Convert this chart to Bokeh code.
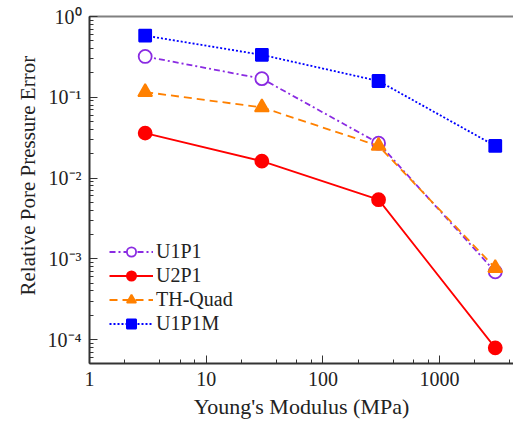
from bokeh.plotting import figure
from bokeh.models import LinearAxis, Range1d, CustomJSTickFormatter, Legend, LegendItem, LogTicker, FixedTicker, Title
from bokeh.embed import file_html
from bokeh.resources import INLINE

modulus = [3, 30, 300, 3000]
u1p1 = [0.32, 0.17, 0.027, 0.00069]
u2p1 = [0.036, 0.0162, 0.0054, 0.000079]
th_quad = [0.116, 0.075, 0.025, 0.00077]
u1p1m = [0.58, 0.335, 0.159, 0.025]
x_label = "Young's Modulus (MPa)"
y_label = "Relative Pore Pressure Error"

FONT = "Liberation Serif"

p = figure(width=513, height=425, x_axis_type="log", y_axis_type="log",
           x_range=Range1d(1, 4300), y_range=Range1d(5.06e-5, 1.0),
           output_backend="svg", toolbar_location=None,
           min_border_left=89, min_border_right=0, min_border_top=16, min_border_bottom=62)
p.outline_line_color = None
p.grid.visible = False
p.background_fill_color = "white"
p.border_fill_color = "white"

for ax in (p.xaxis[0], p.yaxis[0]):
    ax.axis_line_color = "#333333"
    ax.axis_line_width = 2
    ax.major_tick_in = 8
    ax.major_tick_out = 0
    ax.minor_tick_in = 4
    ax.minor_tick_out = 0
    ax.major_tick_line_color = "#333333"
    ax.minor_tick_line_color = "#333333"
    ax.major_label_text_font = FONT
    ax.major_label_text_font_size = "20px"
    ax.major_label_text_color = "#222222"
    ax.axis_label_text_font = FONT
    ax.axis_label_text_font_style = "normal"
    ax.axis_label_text_color = "#222222"

p.xaxis[0].ticker = LogTicker(desired_num_ticks=4)
p.xaxis[0].major_label_overrides = {1: "1", 10: "10", 100: "100", 1000: "1000"}
p.xaxis[0].axis_label = x_label
p.xaxis[0].axis_label_text_font_size = "22px"
p.xaxis[0].major_label_standoff = 8
p.xaxis[0].axis_label_standoff = 5

p.yaxis[0].major_label_standoff = 8
p.yaxis[0].formatter = CustomJSTickFormatter(code="""
const e = Math.round(Math.log10(tick));
const sup = {'-':'\\u207b','0':'\\u2070','1':'\\u00b9','2':'\\u00b2','3':'\\u00b3','4':'\\u2074','5':'\\u2075','6':'\\u2076','7':'\\u2077','8':'\\u2078','9':'\\u2079'};
return '10' + String(e).split('').map(c => sup[c]).join('');
""")

ytitle = Title(text=y_label, align="left", offset=68, standoff=10,
               text_font=FONT, text_font_size="21px", text_font_style="normal",
               text_color="#222222")
p.add_layout(ytitle, "left")

top = LinearAxis(major_tick_line_color=None, minor_tick_line_color=None,
                 major_label_text_font_size="0px", axis_line_color="#808080",
                 axis_line_width=2, ticker=FixedTicker(ticks=[]))
p.add_layout(top, "above")

series = [
    ("U1P1", u1p1, "#8A2BE2", "6 3 2 3", "circle", False, 13),
    ("U2P1", u2p1, "#FF0000", "solid", "circle", True, 13),
    ("TH-Quad", th_quad, "#FF8000", "8 5", "triangle", True, 14),
    ("U1P1M", u1p1m, "#0000FF", "2 2", "square", True, 12),
]
items = []
for name, vals, col, dash, marker, filled, size in series:
    l = p.line(modulus, vals, line_color=col, line_width=1.8, line_dash=dash)
    s = p.scatter(modulus, vals, marker=marker, size=size, line_color=col, line_width=1.8,
                  fill_color=col if filled else "white")
    items.append(LegendItem(label=name, renderers=[l, s]))

leg = Legend(items=items, location=(20, 28), border_line_color=None,
             background_fill_alpha=0, padding=0, margin=0, spacing=1,
             glyph_width=44, glyph_height=23, label_height=23, label_standoff=3,
             label_text_font=FONT, label_text_font_size="20px", label_text_color="#222222")
p.add_layout(leg, "center")

open("out.html", "w").write(file_html(p, INLINE))
